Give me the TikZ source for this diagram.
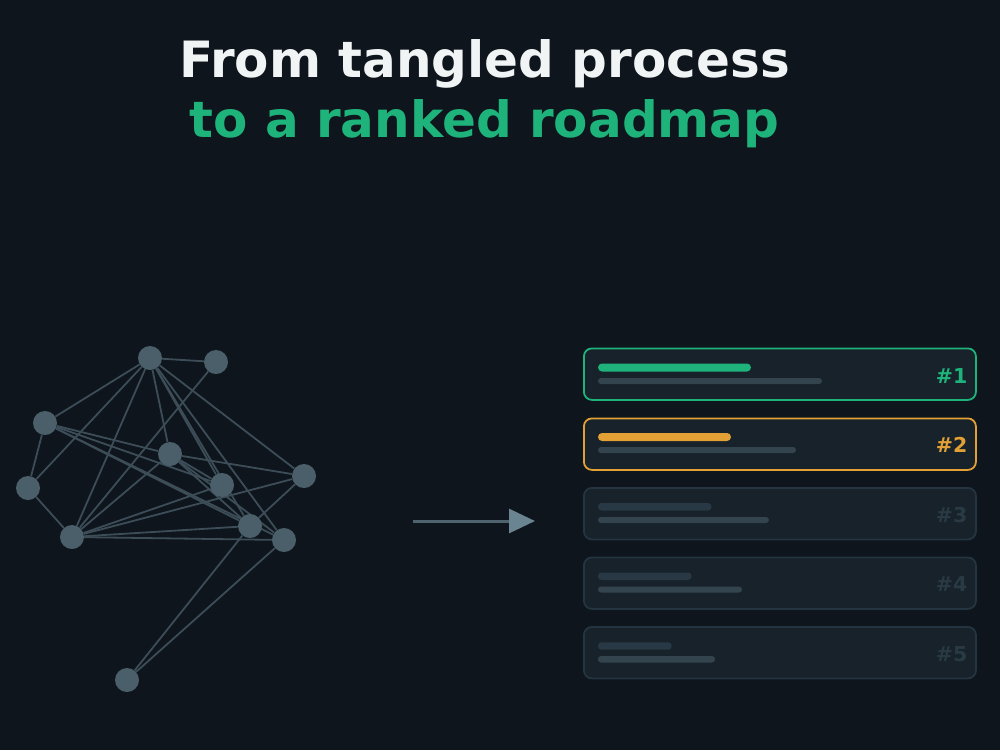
\documentclass[tikz,border=0pt]{standalone}
\usepackage{fontspec}
\setmainfont{DejaVu Sans}
\usetikzlibrary{arrows.meta,backgrounds}
\definecolor{bgc}{HTML}{0E151C}
\definecolor{titlew}{HTML}{F1F4F5}
\definecolor{accg}{HTML}{1FB37C}
\definecolor{acco}{HTML}{E2A035}
\definecolor{nodec}{HTML}{4B5F6A}
\definecolor{edgec}{HTML}{3C4D58}
\definecolor{cardf}{HTML}{17222A}
\definecolor{cardb}{HTML}{243441}
\definecolor{dimtxt}{HTML}{2A3A45}
\definecolor{bardim}{HTML}{283844}
\definecolor{barmid}{HTML}{34444F}
\definecolor{shaftc}{HTML}{4E636E}
\definecolor{tipc}{HTML}{6A8591}
\tikzset{
  gnode/.style={circle,fill=nodec,minimum size=24pt,inner sep=0pt},
  gedge/.style={draw=edgec,line width=1.8pt},
  card/.style={draw=#1,line width=1.8pt,fill=cardf,rounded corners=8pt,minimum width=392pt,minimum height=51.5pt,inner sep=0pt,anchor=north west},
  rank/.style={font=\bfseries\fontsize{20.5}{24}\selectfont,text=#1,anchor=base east,inner sep=0pt},
  title/.style={font=\bfseries\fontsize{50}{60}\selectfont,anchor=base,inner sep=0pt}
}
\begin{document}
\begin{tikzpicture}[x=1pt,y=-1pt]
\useasboundingbox (0,0) rectangle (1000,750);
\begin{pgfonlayer}{background}
\fill[bgc] (0,0) rectangle (1000,750);
\end{pgfonlayer}
% title
\node[title,text=titlew] (t1) at (484.5,77) {From tangled process};
\node[title,text=accg] (t2) at (484.5,137) {to a ranked roadmap};
% graph nodes
\node[gnode] (A) at (150,358) {};
\node[gnode] (B) at (216,362) {};
\node[gnode] (C) at (45,423) {};
\node[gnode] (D) at (170,454) {};
\node[gnode] (E) at (304,476) {};
\node[gnode] (F) at (28,488) {};
\node[gnode] (G) at (222,485) {};
\node[gnode] (H) at (72,537) {};
\node[gnode] (I) at (250,526) {};
\node[gnode] (J) at (284,540) {};
\node[gnode] (K) at (127,680) {};
\begin{pgfonlayer}{background}
\foreach \a/\b in {A/B,A/C,A/F,A/H,A/D,A/G,A/I,A/J,A/E,B/H,C/F,C/D,D/E,C/G,C/I,C/J,F/H,D/H,D/G,D/I,D/J,H/E,H/G,H/I,H/J,E/I,I/K,J/K}
  \draw[gedge] (\a) -- (\b);
\end{pgfonlayer}
% arrow
\coordinate (arrS) at (413,521);
\coordinate (arrE) at (535,521);
\draw[shaftc,line width=3pt,-{Triangle[length=26pt,width=24pt,color=tipc,fill=tipc]}] (arrS) -- (arrE);
% cards
\node[card=accg] (c1) at (583,347.5) {};
\node[card=acco] (c2) at (583,417.5) {};
\node[card=cardb] (c3) at (583,487) {};
\node[card=cardb] (c4) at (583,556.5) {};
\node[card=cardb] (c5) at (583,626) {};
% bars
\fill[accg,rounded corners=4pt] (598,363.5) rectangle (751,371.5);
\fill[barmid,rounded corners=3pt] (598,378) rectangle (822,384);
\fill[acco,rounded corners=4pt] (598,433) rectangle (731,441);
\fill[barmid,rounded corners=3pt] (598,447) rectangle (796,453);
\fill[bardim,rounded corners=3.5pt] (598,503) rectangle (711.5,510.5);
\fill[barmid,rounded corners=3pt] (598,517) rectangle (769,523);
\fill[bardim,rounded corners=3.5pt] (598,572.5) rectangle (691.5,580);
\fill[barmid,rounded corners=3pt] (598,586.5) rectangle (742,592.5);
\fill[bardim,rounded corners=3.5pt] (598,642.3) rectangle (671.7,649.7);
\fill[barmid,rounded corners=3pt] (598,656) rectangle (715,662.5);
% ranks
\node[rank=accg] (r1) at (967.5,383) {\#1};
\node[rank=acco] (r2) at (967.5,452.5) {\#2};
\node[rank=dimtxt] (r3) at (967.5,522) {\#3};
\node[rank=dimtxt] (r4) at (967.5,591.5) {\#4};
\node[rank=dimtxt] (r5) at (967.5,661) {\#5};
\end{tikzpicture}
\end{document}
